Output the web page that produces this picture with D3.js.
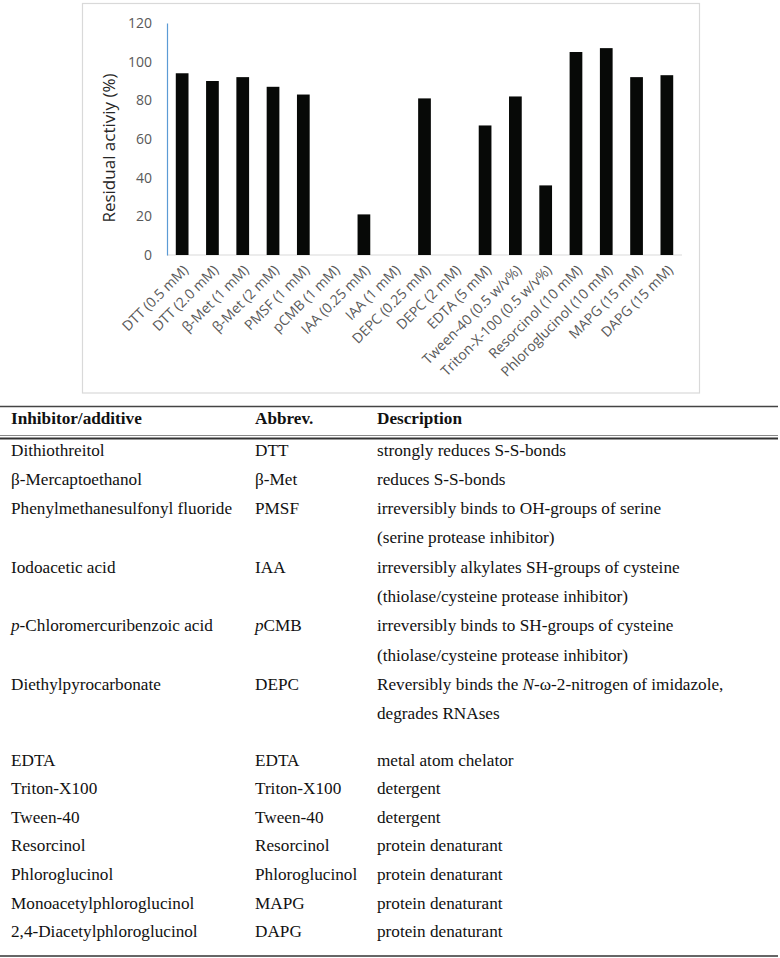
<!DOCTYPE html>
<html><head><meta charset="utf-8">
<script src="https://cdn.jsdelivr.net/npm/d3@7/dist/d3.min.js"></script>
<style>html,body{margin:0;padding:0;background:#fff;}svg{display:block;}</style>
</head><body>
<script>
// ---------- data ----------
const categories = ["DTT (0.5 mM)","DTT (2.0 mM)","β-Met (1 mM)","β-Met (2 mM)","PMSF (1 mM)","pCMB (1 mM)","IAA (0.25 mM)","IAA (1 mM)","DEPC (0.25 mM)","DEPC (2 mM)","EDTA (5 mM)","Tween-40 (0.5 w/v%)","Triton-X-100 (0.5 w/v%)","Resorcinol (10 mM)","Phloroglucinol (10 mM)","MAPG (15 mM)","DAPG (15 mM)"];
const residualActivity = [94,90,92,87,83,0,21,0,81,0,67,82,36,105,107,92,93];
const yTicks = [0,20,40,60,80,100,120];
const yTitle = "Residual activiy (%)";

const tableHeader = ["Inhibitor/additive","Abbrev.","Description"];
const inhibitors = ["Dithiothreitol","β-Mercaptoethanol","Phenylmethanesulfonyl fluoride","","Iodoacetic acid","","_p_-Chloromercuribenzoic acid","","Diethylpyrocarbonate","","EDTA","Triton-X100","Tween-40","Resorcinol","Phloroglucinol","Monoacetylphloroglucinol","2,4-Diacetylphloroglucinol"];
const abbrevs = ["DTT","β-Met","PMSF","","IAA","","_p_CMB","","DEPC","","EDTA","Triton-X100","Tween-40","Resorcinol","Phloroglucinol","MAPG","DAPG"];
const descriptions = ["strongly reduces S-S-bonds","reduces S-S-bonds","irreversibly binds to OH-groups of serine","(serine protease inhibitor)","irreversibly alkylates SH-groups of cysteine","(thiolase/cysteine protease inhibitor)","irreversibly binds to SH-groups of cysteine","(thiolase/cysteine protease inhibitor)","Reversibly binds the _N_-ω-2-nitrogen of imidazole,","degrades RNAses","metal atom chelator","detergent","detergent","protein denaturant","protein denaturant","protein denaturant","protein denaturant"];

// ---------- layout ----------
const W = 780, H = 958;
const svg = d3.select("body").append("svg").attr("width", W).attr("height", H);

// chart frame
svg.append("rect").attr("x", 82.5).attr("y", 3.5).attr("width", 617).attr("height", 389.5)
  .attr("fill", "#fff").attr("stroke", "#d9d9d9").attr("stroke-width", 1.2);

const x = d3.scaleBand().domain(categories).range([167, 682]).paddingInner(0.58).paddingOuter(0.29);
const y = d3.scaleLinear().domain([0, 120]).range([255, 23]);

// baseline
svg.append("line").attr("x1", 167).attr("x2", 682).attr("y1", y(0)).attr("y2", y(0))
  .attr("stroke", "#d9d9d9").attr("stroke-width", 1.2);

// bars
svg.append("g").selectAll("rect").data(categories).join("rect")
  .attr("x", d => x(d)).attr("width", x.bandwidth())
  .attr("y", (d, i) => y(residualActivity[i]))
  .attr("height", (d, i) => y(0) - y(residualActivity[i]))
  .attr("fill", "#070907");

// y axis
const yAxis = d3.axisLeft(y).tickValues(yTicks).tickSize(0).tickPadding(15);
const gy = svg.append("g").attr("transform", "translate(167,0)").call(yAxis);
gy.select(".domain").attr("stroke", "#5b9bd5").attr("stroke-width", 1.2);
gy.selectAll("text").attr("font-family", "'Open Sans', sans-serif").attr("font-size", 14).attr("fill", "#595959");

// x labels
const xAxis = d3.axisBottom(x).tickSize(0).tickPadding(0);
const gx = svg.append("g").attr("transform", `translate(0,${y(0)})`).call(xAxis);
gx.select(".domain").remove();
gx.selectAll("text")
  .attr("font-family", "'Open Sans', sans-serif").attr("font-size", 14).attr("fill", "#595959")
  .attr("text-anchor", "end").attr("dy", "0").attr("y", 0)
  .attr("transform", "translate(7,16) rotate(-45)");

// y title
svg.append("text").attr("transform", "translate(115,148) rotate(-90)")
  .attr("text-anchor", "middle").attr("font-family", "'Open Sans', sans-serif")
  .attr("font-size", 17).attr("fill", "#262626").text(yTitle);

// ---------- table ----------
const colX = [11, 255, 377];
const serif = "'Liberation Serif', 'Times New Roman', serif";
svg.append("line").attr("x1", 0).attr("x2", 778).attr("y1", 406.5).attr("y2", 406.5).attr("stroke", "#444").attr("stroke-width", 1.3);
svg.append("line").attr("x1", 0).attr("x2", 778).attr("y1", 435.5).attr("y2", 435.5).attr("stroke", "#888").attr("stroke-width", 1);
svg.append("line").attr("x1", 0).attr("x2", 778).attr("y1", 438.5).attr("y2", 438.5).attr("stroke", "#333").attr("stroke-width", 2.2);
svg.append("line").attr("x1", 0).attr("x2", 778).attr("y1", 956).attr("y2", 956).attr("stroke", "#333").attr("stroke-width", 1.5);

svg.append("g").selectAll("text").data(tableHeader).join("text")
  .attr("x", (d, i) => colX[i]).attr("y", 424)
  .attr("font-family", serif).attr("font-size", 17.2).attr("font-weight", "bold").attr("fill", "#111")
  .text(d => d);

function rowY(i) { return i < 10 ? 455.5 + 29.3 * i : 765.5 + 28.6 * (i - 10); }

function addRich(sel, str) {
  const parts = str.split("_");
  parts.forEach((p, k) => {
    if (!p) return;
    sel.append("tspan").attr("font-style", k % 2 ? "italic" : "normal").text(p);
  });
}
const columns = [inhibitors, abbrevs, descriptions];
columns.forEach((col, c) => {
  col.forEach((str, i) => {
    if (!str) return;
    const t = svg.append("text").attr("x", colX[c]).attr("y", rowY(i))
      .attr("font-family", serif).attr("font-size", 17.2).attr("fill", "#111");
    addRich(t, str);
  });
});
</script>
</body></html>
